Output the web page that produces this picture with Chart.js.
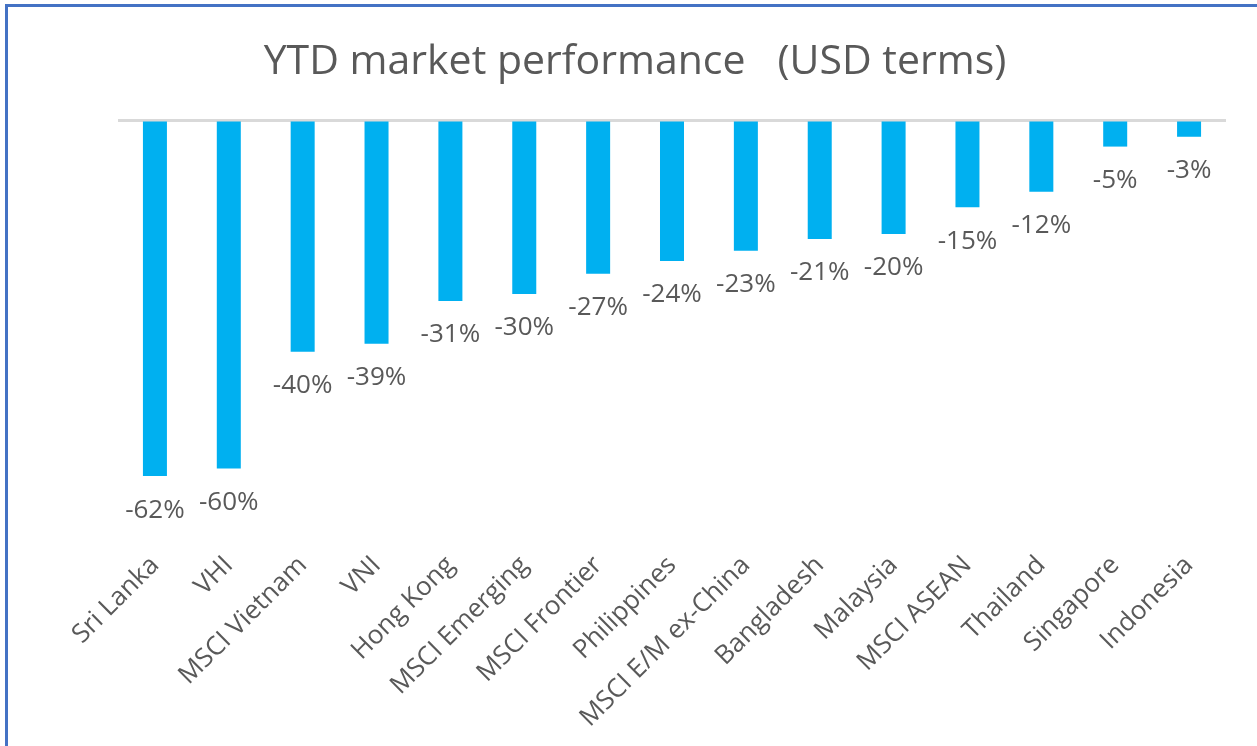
<!DOCTYPE html>
<html>
<head>
<meta charset="utf-8">
<script src="https://cdn.jsdelivr.net/npm/chart.js@4"></script>
<style>
    html, body { margin: 0; padding: 0; background: #ffffff; overflow: hidden; }
    #wrap { position: relative; width: 1257px; height: 746px; }
    #frame {
        position: absolute; left: 5px; top: 4px; width: 1300px; height: 800px;
        border-left: 3px solid #4472C4; border-top: 3px solid #4472C4;
        pointer-events: none;
    }
    canvas { position: absolute; left: 0; top: 0; }
</style>
</head>
<body>
<div id="wrap">
    <canvas id="perfChart" width="1257" height="746"></canvas>
    <div id="frame"></div>
</div>
<script>
// YTD performance, USD terms (%)
const markets = [
    'Sri Lanka', 'VHI', 'MSCI Vietnam', 'VNI', 'Hong Kong', 'MSCI Emerging', 'MSCI Frontier',
    'Philippines', 'MSCI E/M ex-China', 'Bangladesh', 'Malaysia', 'MSCI ASEAN', 'Thailand',
    'Singapore', 'Indonesia'
];
const ytdReturns = [-61.6, -60.3, -40.1, -38.7, -31.3, -30.1, -26.6, -24.4, -22.6, -20.6, -19.7, -15.1, -12.4, -4.6, -2.9];

const TEXT_GREY = '#595959';
const FONT = "'Open Sans', sans-serif";

// draws the "-62%" style labels under each bar
const barLabels = {
    id: 'barLabels',
    afterDatasetsDraw(chart) {
        const ctx = chart.ctx;
        const meta = chart.getDatasetMeta(0);
        ctx.save();
        ctx.font = '26px ' + FONT;
        ctx.fillStyle = TEXT_GREY;
        ctx.textAlign = 'center';
        ctx.textBaseline = 'middle';
        meta.data.forEach((bar, i) => {
            ctx.fillText(ytdReturns[i].toFixed(0) + '%', bar.x, bar.y + 34);
        });
        ctx.restore();
    }
};

new Chart(document.getElementById('perfChart'), {
    type: 'bar',
    data: {
        labels: markets,
        datasets: [{
            data: ytdReturns,
            backgroundColor: '#00B0F0',
            borderWidth: 0,
            categoryPercentage: 1,
            barPercentage: 0.325
        }]
    },
    options: {
        responsive: false,
        animation: false,
        layout: { padding: { left: 44, right: 31, top: 0, bottom: 0 } },
        plugins: {
            legend: { display: false },
            tooltip: { enabled: false },
            title: {
                display: true,
                text: 'YTD market performance   (USD terms)',
                color: TEXT_GREY,
                font: { family: FONT, size: 41, weight: 'normal', lineHeight: 1.2 },
                padding: { top: 38, bottom: 32.8 }
            }
        },
        scales: {
            x: {
                grid: { display: false },
                border: { display: false },
                ticks: {
                    color: TEXT_GREY,
                    font: { family: FONT, size: 26 },
                    minRotation: 45,
                    maxRotation: 45,
                    autoSkip: false,
                    padding: 0
                },
                afterFit(scale) { scale.height = 204; }
            },
            y: {
                min: -73,
                max: 0,
                ticks: { display: false, stepSize: 73 },
                border: { display: false },
                grid: {
                    drawTicks: false,
                    lineWidth: 3,
                    color: c => c.tick && c.tick.value === 0 ? '#D9D9D9' : 'rgba(0,0,0,0)'
                },
                afterFit(scale) { scale.width = 74; }
            }
        }
    },
    plugins: [barLabels]
});
</script>
</body>
</html>
